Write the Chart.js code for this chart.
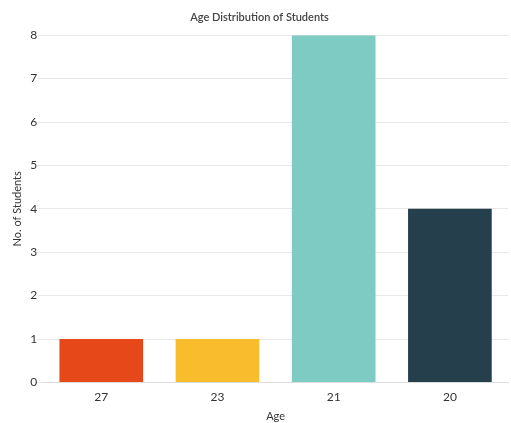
<!DOCTYPE html>
<html lang="en">
<head>
    <meta charset="UTF-8">
    <title>Age Distribution of Students</title>
    <script src="https://cdn.jsdelivr.net/npm/chart.js"></script>
    <style>
        body { margin: 0; background: #fff; }
        canvas { display: block; }
    </style>
</head>
<body>
    <canvas id="ageChart" width="511" height="423"></canvas>
    <script>
        // Data
        const ages = ['27', '23', '21', '20'];
        const studentCounts = [1, 1, 8, 4];
        const barColors = ['#E6481A', '#F8BC2D', '#7ECBC3', '#263F4C'];

        const ctx = document.getElementById('ageChart').getContext('2d');

        Chart.defaults.font.family = 'Lato, "Open Sans", sans-serif';
        Chart.defaults.color = '#333';

        new Chart(ctx, {
            type: 'bar',
            data: {
                labels: ages,
                datasets: [{
                    label: 'No. of Students',
                    data: studentCounts,
                    backgroundColor: barColors,
                    borderWidth: 0
                }]
            },
            options: {
                responsive: false,
                animation: false,
                layout: { padding: { top: 0, right: 3, bottom: 0, left: 11 } },
                plugins: {
                    legend: { display: false },
                    title: {
                        display: true,
                        text: 'Age Distribution of Students',
                        font: { size: 11, weight: '600' },
                        color: '#444',
                        padding: { top: 11, bottom: 11 }
                    },
                    tooltip: { enabled: false }
                },
                scales: {
                    x: {
                        grid: { display: false },
                        border: { color: '#ddd' },
                        ticks: { font: { size: 12 }, color: '#333', padding: 0 },
                        title: {
                            display: true,
                            text: 'Age',
                            font: { size: 11 },
                            color: '#333',
                            padding: { top: 5, bottom: 0 }
                        }
                    },
                    y: {
                        min: 0,
                        max: 8,
                        ticks: { stepSize: 1, font: { size: 12 }, color: '#333', padding: 0 },
                        grid: { color: '#e8e8e8', tickLength: 6 },
                        border: { display: false },
                        title: {
                            display: true,
                            text: 'No. of Students',
                            font: { size: 11 },
                            color: '#333',
                            padding: { top: 0, bottom: 6 }
                        }
                    }
                }
            }
        });
    </script>
</body>
</html>
